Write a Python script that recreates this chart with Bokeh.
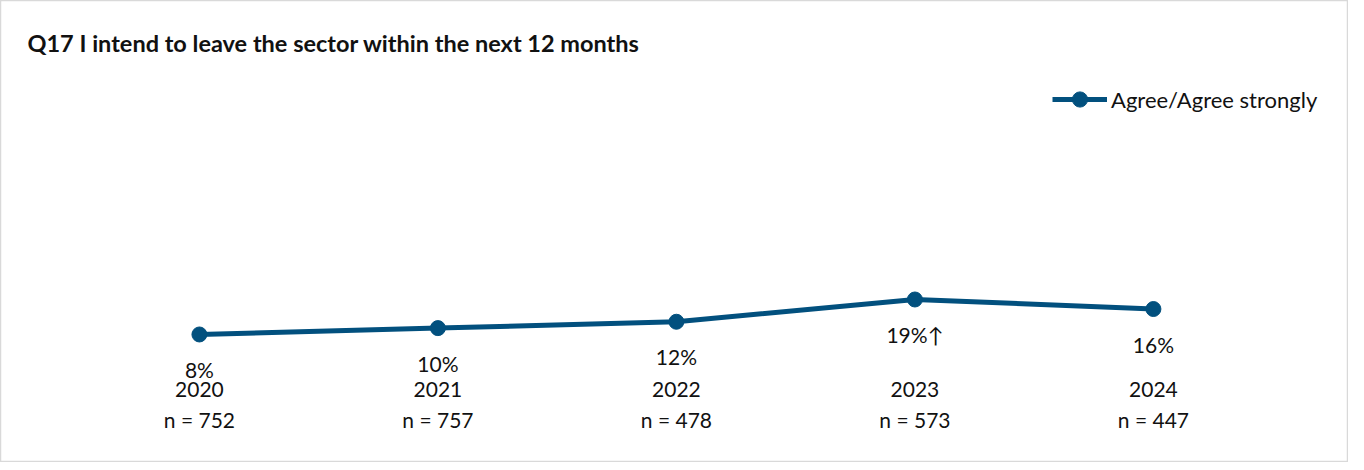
from bokeh.plotting import figure
from bokeh.models import Range1d, Label, Legend, ColumnDataSource
from bokeh.core.properties import value
from bokeh.embed import file_html
from bokeh.resources import INLINE

years = ["2020", "2021", "2022", "2023", "2024"]
n_labels = ["n = 752", "n = 757", "n = 478", "n = 573", "n = 447"]
agree = [8, 10, 12, 19, 16]
agree_labels = ["8%", "10%", "12%", "19%\u2191", "16%"]
series_name = "Agree/Agree strongly"
title_text = "Q17 I intend to leave the sector within the next 12 months"

COLOR = "#02507E"
FONT = "Lato"
TXT = "#111111"

W, H = 1348, 462
p = figure(width=W, height=H, output_backend="svg", toolbar_location=None,
           min_border=0, min_border_left=0, min_border_right=0,
           min_border_top=0, min_border_bottom=0,
           x_range=Range1d(-0.834, 4.818), y_range=Range1d(-32.25, 113.0))
p.xaxis.visible = False
p.yaxis.visible = False
p.xgrid.visible = False
p.ygrid.visible = False
p.outline_line_color = "#d9d9d9"
p.outline_line_width = 1.5
p.background_fill_color = "white"
p.border_fill_color = "white"

idx = list(range(len(years)))
src = ColumnDataSource(dict(x=idx, y=agree, lab=agree_labels, year=years, n=n_labels,
                            base=[p.y_range.start] * len(years)))

r_line = p.line("x", "y", source=src, line_color=COLOR, line_width=5)
r_pts = p.scatter("x", "y", source=src, size=15, fill_color=COLOR, line_color=COLOR)

p.text("x", "y", text="lab", source=src, y_offset=35, text_align="center",
       text_baseline="middle", text_font=value(FONT), text_font_size="21px",
       text_color=TXT)
p.text("x", "base", text="year", source=src, y_offset=-73, text_align="center",
       text_baseline="middle", text_font=value(FONT), text_font_size="21px",
       text_color=TXT)
p.text("x", "base", text="n", source=src, y_offset=-43, text_align="center",
       text_baseline="middle", text_font=value(FONT), text_font_size="21px",
       text_color=TXT)

title = Label(x=27, y=H - 42, x_units="screen", y_units="screen", text=title_text,
              text_font=FONT, text_font_size="23.5px", text_font_style="bold",
              text_baseline="middle", text_color=TXT)
p.add_layout(title)

legend = Legend(items=[(series_name, [r_line, r_pts])], location=(1052, 344),
                glyph_width=55, glyph_height=38, label_standoff=4, padding=0,
                spacing=0, margin=0, border_line_color=None,
                background_fill_alpha=0, label_text_font=FONT,
                label_text_font_size="22px", label_text_color=TXT)
p.add_layout(legend)

open("out.html", "w").write(file_html(p, INLINE))
